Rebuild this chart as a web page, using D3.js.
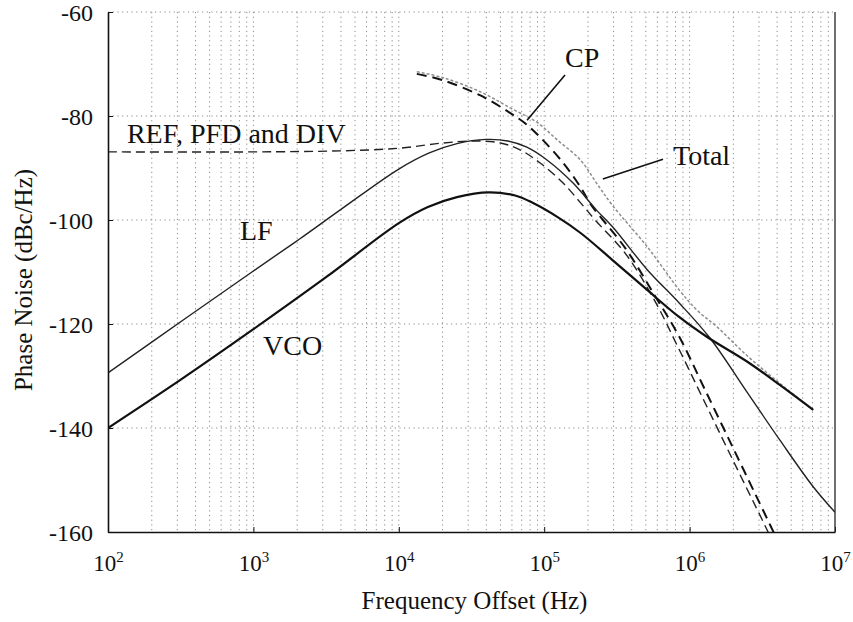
<!DOCTYPE html>
<html>
<head>
<meta charset="utf-8">
<script src="https://cdn.jsdelivr.net/npm/d3@7"></script>
<style>
  html, body { margin: 0; padding: 0; background: #fff; }
  svg { display: block; }
  svg text { font-family: 'Liberation Serif', 'Times New Roman', serif; }
</style>
</head>
<body>
<svg id="chart" width="853" height="622"></svg>
<script>
// ---------- data (frequency in Hz, phase noise in dBc/Hz) ----------
const lfFreq  = [100, 350, 1000, 2090, 3980, 10000, 16200, 25120, 39810, 56230, 75900, 105000, 158000, 229000, 295000, 513000, 851000, 1380000, 2510000, 4170000, 7080000, 10000000];
const lfNoise = [-129.4, -118.7, -109.8, -103.6, -98.0, -90.2, -87.1, -85.3, -84.5, -84.8, -86.0, -88.5, -92.9, -98.1, -101.3, -109.6, -116.0, -122.7, -133.3, -142.3, -151.3, -156.2];

const vcoFreq  = [100, 313, 1000, 3160, 10000, 15850, 25120, 41690, 63100, 83200, 123000, 178000, 295000, 513000, 851000, 1320000, 2510000, 4170000, 7080000];
const vcoNoise = [-140.0, -130.8, -121.0, -111.0, -100.6, -97.5, -95.6, -94.7, -95.3, -96.7, -99.4, -102.5, -107.7, -113.5, -118.7, -122.5, -127.3, -131.7, -136.5];

const refFreq  = [100, 1000, 3980, 10000, 20000, 32400, 50100, 68200, 93300, 135000, 178000, 224000, 363000, 575000, 851000, 1259000, 1995000, 3162000, 3467000, 3981000];
const refNoise = [-86.9, -86.9, -86.7, -86.2, -85.2, -84.8, -85.2, -86.5, -89.0, -92.9, -96.7, -100.0, -106.5, -115.5, -125.0, -134.8, -146.3, -157.7, -160.0, -163.4];

const cpFreq  = [13300, 20000, 36100, 58200, 76200, 97700, 135000, 178000, 209000, 363000, 575000, 851000, 1259000, 1995000, 3162000, 3715000, 4169000];
const cpNoise = [-71.9, -73.1, -76.0, -79.4, -81.7, -84.6, -89.0, -93.7, -97.0, -105.5, -114.5, -122.5, -132.3, -143.9, -155.5, -159.6, -162.5];

const totalFreq  = [13300, 20000, 36100, 58900, 89100, 123000, 178000, 229000, 295000, 513000, 851000, 1120000, 1550000, 2510000, 4170000, 7080000];
const totalNoise = [-71.5, -72.6, -75.3, -78.5, -81.2, -84.6, -88.5, -92.9, -97.2, -105.2, -113.5, -117.3, -120.6, -126.2, -131.4, -136.5];

const xTickExps = [2, 3, 4, 5, 6, 7];
const yTicks = [-60, -80, -100, -120, -140, -160];
const yGrid = [-60, -80, -100, -120, -140];

const labels = [
  { text: "REF, PFD and DIV", f: 135,    v: -85.2 },
  { text: "LF",               f: 809,    v: -103.8 },
  { text: "VCO",              f: 1165,   v: -126.0 },
  { text: "CP",               f: 139000, v: -70.6 },
  { text: "Total",            f: 769000, v: -89.4 }
];
const leaders = [
  { f1: 139000, v1: -72.1, f2: 76200,  v2: -80.8 },
  { f1: 656000, v1: -88.3, f2: 253000, v2: -92.1 }
];

// ---------- layout ----------
const L = 108, T = 12, R = 835, B = 532;
const FONT = "'Liberation Serif', 'Times New Roman', serif";
const svg = d3.select("#chart");
const x = d3.scaleLog().domain([1e2, 1e7]).range([L, R]);
const y = d3.scaleLinear().domain([-160, -60]).range([B, T]);

svg.append("defs").append("clipPath").attr("id", "plotclip")
  .append("rect").attr("x", L).attr("y", T).attr("width", R - L).attr("height", B - T);

// ---------- grid ----------
const grid = svg.append("g").attr("stroke", "#8a8a8a").attr("stroke-width", 1)
  .attr("stroke-dasharray", "1.2,3.5").attr("fill", "none");
const minorF = [];
for (let e = 2; e < 7; e++) for (let m = 1; m <= 9; m++) if (!(m === 1 && e === 2)) minorF.push(m * Math.pow(10, e));
grid.selectAll("line.v").data(minorF).join("line")
  .attr("x1", d => x(d)).attr("x2", d => x(d)).attr("y1", T).attr("y2", B);
grid.selectAll("line.h").data(yGrid).join("line")
  .attr("x1", L).attr("x2", R).attr("y1", d => y(d)).attr("y2", d => y(d));

// ---------- curves ----------
const line = d3.line().x(d => x(d[0])).y(d => y(d[1])).curve(d3.curveCatmullRom.alpha(0.5));
const zip = (a, b) => a.map((f, i) => [f, b[i]]);
const plot = svg.append("g").attr("clip-path", "url(#plotclip)").attr("fill", "none");

plot.append("path").datum(zip(totalFreq, totalNoise)).attr("d", line)
  .attr("stroke", "#8d8d8d").attr("stroke-width", 1.5).attr("stroke-dasharray", "3,2");
plot.append("path").datum(zip(refFreq, refNoise)).attr("d", line)
  .attr("stroke", "#222").attr("stroke-width", 1.4).attr("stroke-dasharray", "9,5");
plot.append("path").datum(zip(cpFreq, cpNoise)).attr("d", line)
  .attr("stroke", "#111").attr("stroke-width", 2).attr("stroke-dasharray", "10,6");
plot.append("path").datum(zip(lfFreq, lfNoise)).attr("d", line)
  .attr("stroke", "#222").attr("stroke-width", 1.4);
plot.append("path").datum(zip(vcoFreq, vcoNoise)).attr("d", line)
  .attr("stroke", "#111").attr("stroke-width", 2.2);

// ---------- axes ----------
const xAxis = svg.append("g").attr("transform", `translate(0,${B})`)
  .call(d3.axisBottom(x).tickValues(xTickExps.map(e => Math.pow(10, e)))
    .tickSize(-5).tickSizeOuter(0).tickPadding(28).tickFormat(() => ""));
xAxis.select(".domain").attr("stroke", "#111").attr("stroke-width", 1.6);
xAxis.selectAll(".tick line").attr("stroke", "#111");
xAxis.selectAll(".tick text").each(function(d) {
  const t = d3.select(this).style("font-family", FONT).attr("font-size", 23).attr("fill", "#111")
    .attr("dy", 0).attr("y", 39);
  t.append("tspan").text("10");
  t.append("tspan").attr("font-size", 15).attr("dy", -9).text(Math.round(Math.log10(d)));
});

const yAxis = svg.append("g").attr("transform", `translate(${L},0)`)
  .call(d3.axisLeft(y).tickValues(yTicks).tickSize(-5).tickSizeOuter(0).tickPadding(15)
    .tickFormat(d => String(d)));
yAxis.select(".domain").attr("stroke", "#111").attr("stroke-width", 1.6);
yAxis.selectAll(".tick line").attr("stroke", "#111");
yAxis.selectAll(".tick text").style("font-family", FONT).attr("font-size", 24).attr("fill", "#111")
  .attr("dy", "0.34em");

// right border
svg.append("line").attr("x1", R).attr("x2", R).attr("y1", T).attr("y2", B)
  .attr("stroke", "#222").attr("stroke-width", 1.3);

// ---------- titles ----------
svg.append("text").style("font-family", FONT).attr("x", (L + R) / 2 + 3).attr("y", 609)
  .attr("text-anchor", "middle").attr("font-size", 25).attr("fill", "#111").text("Frequency Offset (Hz)");
svg.append("text").style("font-family", FONT).attr("transform", `translate(32,${(T + B) / 2 + 8}) rotate(-90)`)
  .attr("text-anchor", "middle").attr("font-size", 25).attr("fill", "#111")
  .text("Phase Noise (dBc/Hz)");

// ---------- annotations ----------
svg.append("g").selectAll("text").data(labels).join("text")
  .style("font-family", FONT)
  .attr("x", d => x(d.f)).attr("y", d => y(d.v))
  .attr("font-size", 28).attr("fill", "#111").text(d => d.text);
svg.append("g").selectAll("line").data(leaders).join("line")
  .attr("x1", d => x(d.f1)).attr("y1", d => y(d.v1))
  .attr("x2", d => x(d.f2)).attr("y2", d => y(d.v2))
  .attr("stroke", "#111").attr("stroke-width", 1.6);
</script>
</body>
</html>
